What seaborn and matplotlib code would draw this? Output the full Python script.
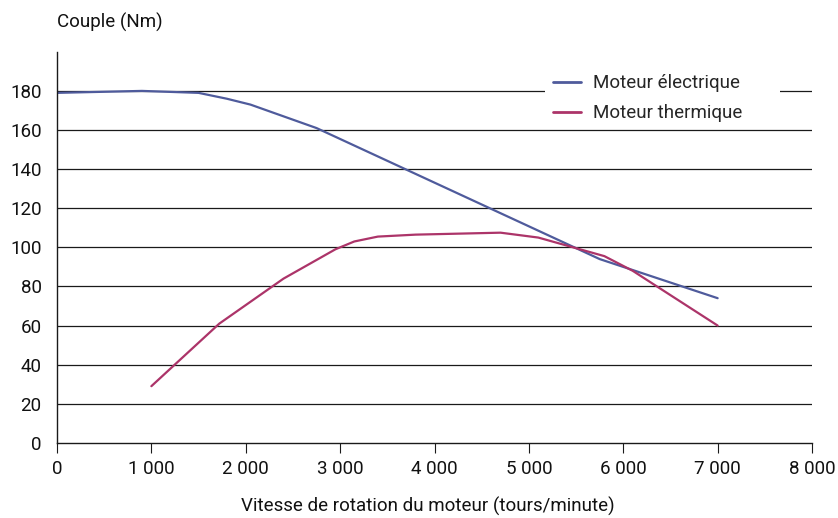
import matplotlib
matplotlib.use("Agg")
import matplotlib.pyplot as plt
from matplotlib.patches import Rectangle
from matplotlib.ticker import FuncFormatter
import seaborn as sns
import pandas as pd

# Torque curves (Nm) against engine speed (rpm)
elec_rpm = [0, 900, 1500, 1800, 2050, 2400, 2750, 5750, 7000]
elec_torque = [179, 180, 179, 176, 173, 167, 161, 94, 74]

therm_rpm = [1000, 1720, 2400, 2950, 3150, 3400, 3800, 4700, 5100, 5800, 6100, 7000]
therm_torque = [29, 61, 84, 99, 103, 105.5, 106.5, 107.5, 105, 95.5, 88, 60]

series_names = ["Moteur électrique", "Moteur thermique"]
series_colors = ["#4f5b9c", "#ac3469"]

x_ticks = [0, 1000, 2000, 3000, 4000, 5000, 6000, 7000, 8000]
y_ticks = [0, 20, 40, 60, 80, 100, 120, 140, 160, 180]

df = pd.concat([
    pd.DataFrame({"rpm": elec_rpm, "torque": elec_torque, "moteur": series_names[0]}),
    pd.DataFrame({"rpm": therm_rpm, "torque": therm_torque, "moteur": series_names[1]}),
])

sns.set_theme(style="white")
plt.rcParams["font.family"] = ["Roboto", "DejaVu Sans"]

FS = 13.5

fig = plt.figure(figsize=(8.38, 5.18), dpi=100)
ax = fig.add_axes([0.068, 0.145, 0.901, 0.755])

sns.lineplot(data=df, x="rpm", y="torque", hue="moteur", palette=series_colors,
             hue_order=series_names, linewidth=1.6, ax=ax, sort=False, estimator=None)

ax.set_xlim(0, 8000)
ax.set_ylim(0, 200)
ax.set_xticks(x_ticks)
ax.set_yticks(y_ticks)
ax.xaxis.set_major_formatter(FuncFormatter(lambda v, p: f"{int(v):,}".replace(",", " ")))

for y in y_ticks[1:]:
    ax.axhline(y, color="#1a1a1a", linewidth=0.9, zorder=0)

for side in ["top", "right"]:
    ax.spines[side].set_visible(False)
for side in ["left", "bottom"]:
    ax.spines[side].set_color("#1a1a1a")
    ax.spines[side].set_linewidth(1.0)

ax.tick_params(axis="x", which="major", bottom=True, length=7, width=0.8,
               color="#1a1a1a", labelsize=FS, pad=5, labelcolor="#111111")
ax.tick_params(axis="y", which="major", left=False, labelsize=FS, pad=5,
               labelcolor="#111111")

ax.set_xlabel("")
ax.set_ylabel("")
fig.text(0.511, 0.022, "Vitesse de rotation du moteur (tours/minute)", fontsize=FS,
         color="#111111", ha="center", va="center")
fig.text(0.068, 0.957, "Couple (Nm)", fontsize=FS, color="#111111",
         ha="left", va="center")

# white backing box behind the legend, hiding the grid line it sits on
ax.add_patch(Rectangle((0.646, 0.818), 0.312, 0.146, transform=ax.transAxes,
                       facecolor="white", edgecolor="none", zorder=1.5))

leg = ax.legend(loc="upper left", bbox_to_anchor=(0.651, 0.955), frameon=False,
                fontsize=FS, handlelength=1.5, handletextpad=0.6,
                borderpad=0.25, labelspacing=0.66, borderaxespad=0)
for h in leg.get_lines():
    h.set_linewidth(2.0)

fig.savefig("out.png", dpi=100)
